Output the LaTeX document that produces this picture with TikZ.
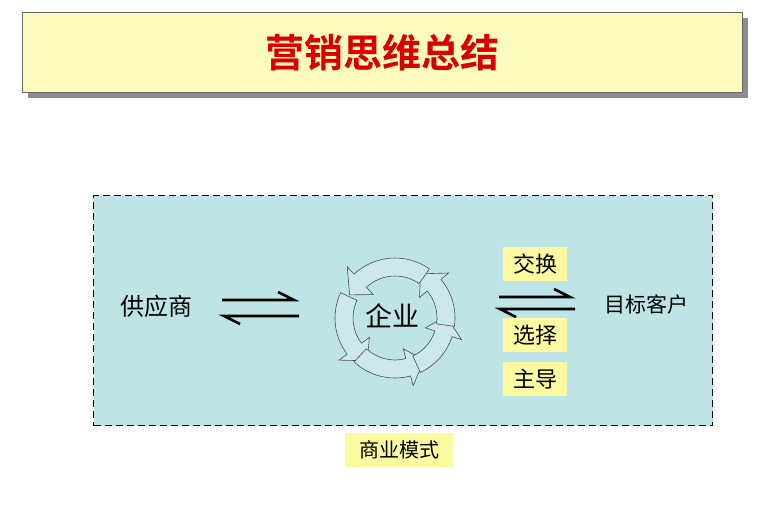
\documentclass[tikz,border=0pt]{standalone}
\usepackage{fontspec}
\newfontfamily\cjk{Noto Sans CJK SC}
\newfontfamily\cjkb{Noto Sans CJK SC Bold}
\definecolor{boxbg}{RGB}{190,228,230}
\definecolor{ringbg}{RGB}{205,232,234}
\definecolor{ylw}{RGB}{252,250,160}
\definecolor{ttl}{RGB}{253,252,190}
\begin{document}
\begin{tikzpicture}[x=1pt,y=-1pt,
  ylab/.style={fill=ylw,inner sep=0pt,minimum width=64pt,minimum height=34pt,font=\cjk\fontsize{22}{22}\selectfont},
  plain/.style={font=\cjk\fontsize{24}{24}\selectfont},
  ring/.style={fill=ringbg,draw=black!70,line width=0.6pt},
  harp/.style={line width=2.6pt}]
\useasboundingbox (0,0) rectangle (762,504);
\fill[white] (0,0) rectangle (762,504);
% title
\fill[black!45] (28,18) rectangle (748,98);
\node[draw=black!60,fill=ttl,minimum width=720pt,minimum height=80pt,inner sep=0pt,anchor=north west] (title) at (22,12) {};
\node[font=\cjkb\fontsize{39}{39}\selectfont,text=red!85!black] (tt) at (title.center) {营销思维总结};
% main dashed box
\node[draw,dash pattern=on 7pt off 4pt,line width=1.2pt,fill=boxbg,minimum width=619pt,minimum height=230pt,inner sep=0pt,anchor=north west] (main) at (93,195) {};
% supplier
\node[plain] (sup) at (156,306) {供应商};
\coordinate (la1) at (222,300); \coordinate (lb1) at (294,300);
\coordinate (la2) at (224,316); \coordinate (lb2) at (299,316);
\draw[harp] (la1) -- (lb1) -- ++(-16,-8);
\draw[harp] (lb2) -- (la2) -- ++(16,8);
% cycle
\coordinate (c) at (395,318);
\foreach \e/\s in {143/205, 75/133, 18/65, -40/8, -133/-55}{
  \path[ring] ([shift={(c)}]\s:60) arc[start angle=\s,end angle=\e,radius=60]
     -- ([shift={(c)}]\e:70) -- ([shift={(c)}]\e-20:51) -- ([shift={(c)}]\e:32)
     -- ([shift={(c)}]\e:42) arc[start angle=\e,end angle=\s,radius=42] -- cycle;
}
\node[plain,font=\cjk\fontsize{27}{27}\selectfont] (ent) at (392,316) {企业};
% right
\node[ylab] (jh) at (535,264) {交换};
\node[ylab] (xz) at (535,335) {选择};
\node[ylab] (zd) at (535,379) {主导};
\node[font=\cjk\fontsize{21}{21}\selectfont] (cust) at (646,304) {目标客户};
\coordinate (ra1) at (499,297); \coordinate (rb1) at (570,297);
\coordinate (ra2) at (500,309); \coordinate (rb2) at (575,309);
\draw[harp] (ra1) -- (rb1) -- ++(-16,-8);
\draw[harp] (rb2) -- (ra2) -- ++(16,8);
\node[ylab,minimum width=108pt,font=\cjk\fontsize{20}{20}\selectfont] (bm) at (399,450) {商业模式};
\end{tikzpicture}
\end{document}
